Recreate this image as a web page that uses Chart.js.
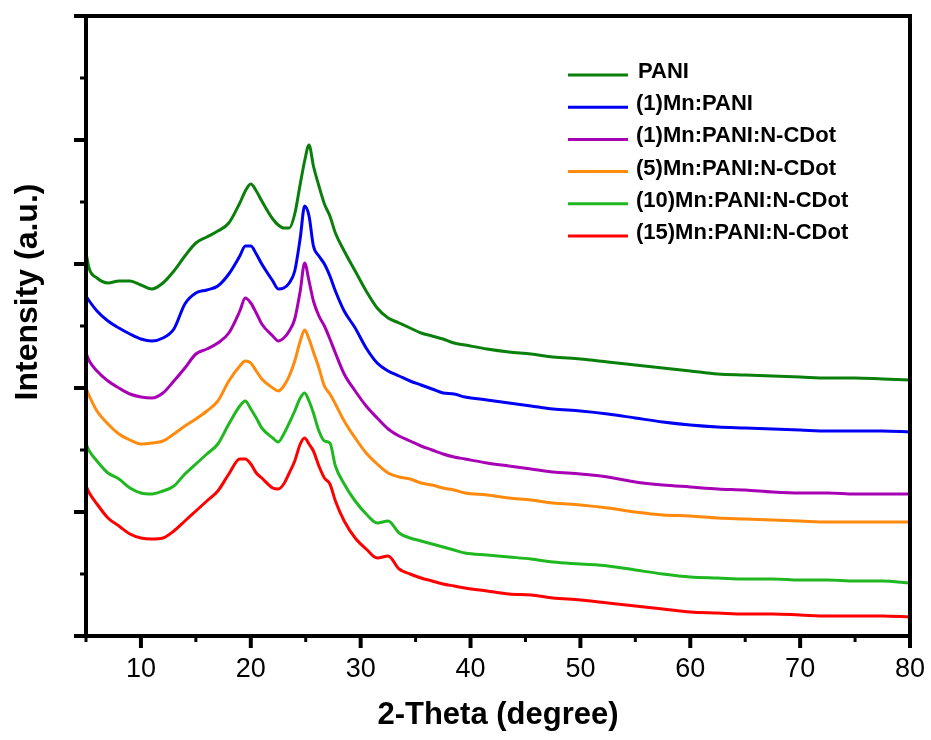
<!DOCTYPE html>
<html>
<head>
<meta charset="utf-8">
<script src="https://cdn.jsdelivr.net/npm/chart.js@4.4.1/dist/chart.umd.min.js"></script>
<style>
  html, body { margin: 0; padding: 0; background: #fff; }
</style>
</head>
<body>
<canvas id="xrd" width="931" height="740"></canvas>
<script>
// 2-theta positions (degree)
const theta = [5, 5.3, 6, 7, 8, 9, 10, 11, 12, 13, 14, 15, 16, 17, 18, 19, 19.5, 20, 20.5, 21,
  22, 22.5, 23, 23.5, 24, 24.5, 24.9, 25.3, 25.7, 26.2, 26.7, 27.2, 27.7, 28.5, 29.5, 30.5, 31.5, 32.5, 33.5, 34.5,
  35.5, 36.5, 37.5, 38.5, 39.5, 41.5, 43.5, 45.5, 47.5, 50, 52.5, 55, 57.5, 60, 62.5, 65, 67.5, 70, 72.5, 75,
  77.5, 80];

// stacked intensities (a.u.)
const pani = [383, 367, 358, 353, 355, 355, 351, 347, 353, 365, 380, 393, 399, 405, 413, 433, 445, 452, 445, 435,
  417, 411, 408, 408, 422, 452, 475, 491, 470, 450, 432, 420, 403, 385, 365, 345, 328, 318, 313, 308,
  303, 300, 297, 293, 291, 287, 284, 282, 279, 277, 274, 271, 268, 265, 262, 261, 260, 259, 258, 258, 257, 256];
const mn1Pani = [340, 335, 325, 315, 308, 302, 297, 295, 298, 307, 332, 343, 346, 350, 362, 380, 390, 390, 382, 372,
  355, 347, 348, 353, 365, 398, 430, 420, 390, 380, 372, 360, 345, 325, 308, 288, 273, 265, 260, 255,
  251, 247, 243, 242, 239, 236, 233, 230, 227, 225, 222, 218, 214, 211, 209, 208, 207, 206, 205, 205, 205, 204];
const mn1Cdot = [283, 275, 265, 255, 248, 242, 239, 238, 243, 255, 268, 282, 287, 293, 303, 325, 338, 333, 323, 312,
  300, 295, 298, 305, 317, 345, 373, 355, 335, 320, 310, 297, 283, 262, 245, 230, 218, 207, 200, 195,
  190, 186, 182, 179, 177, 173, 170, 167, 164, 162, 159, 154, 151, 149, 147, 146, 144, 143, 143, 142, 142, 142];
const mn5Cdot = [248, 240, 225, 212, 202, 196, 192, 193, 195, 202, 210, 217, 225, 235, 255, 270, 275, 273, 265, 257,
  248, 245, 250, 260, 275, 295, 306, 297, 284, 268, 250, 242, 232, 215, 198, 183, 172, 163, 159, 157,
  153, 151, 148, 146, 143, 141, 138, 136, 133, 131, 128, 124, 121, 120, 118, 117, 116, 115, 114, 114, 114, 114];
const mn10Cdot = [192, 185, 175, 163, 157, 148, 143, 142, 145, 150, 162, 172, 182, 192, 212, 230, 235, 227, 218, 208,
  198, 194, 202, 213, 225, 238, 243, 235, 223, 205, 195, 193, 170, 152, 135, 122, 113, 115, 103, 98,
  95, 92, 89, 86, 83, 81, 79, 77, 74, 72, 70, 66, 62, 59, 58, 57, 57, 56, 56, 55, 55, 53];
const mn15Cdot = [150, 143, 132, 118, 110, 102, 98, 97, 98, 105, 115, 125, 135, 145, 162, 177, 177, 172, 163, 158,
  148, 147, 152, 163, 175, 192, 198, 192, 185, 170, 158, 152, 135, 115, 98, 87, 78, 80, 67, 62,
  58, 55, 52, 50, 48, 45, 42, 41, 38, 36, 33, 30, 27, 24, 23, 22, 22, 21, 20, 20, 20, 19];

const seriesNames = ['PANI', '(1)Mn:PANI', '(1)Mn:PANI:N-CDot', '(5)Mn:PANI:N-CDot', '(10)Mn:PANI:N-CDot', '(15)Mn:PANI:N-CDot'];
const seriesColors = ['#0b7f0b', '#0000f5', '#a800b5', '#ff8a0d', '#20b820', '#ff0000'];
const seriesValues = [pani, mn1Pani, mn1Cdot, mn5Cdot, mn10Cdot, mn15Cdot];

const xMajor = [10, 20, 30, 40, 50, 60, 70, 80];
const xMinor = [5, 15, 25, 35, 45, 55, 65, 75];
const yMajor = [0, 124, 248, 372, 496, 620];
const yMinor = [62, 186, 310, 434, 558];

const FONT = '"Liberation Sans", Arial, sans-serif';

const frame = {
  id: 'frame',
  afterDraw(chart) {
    const { ctx, chartArea: a, scales: { x, y } } = chart;
    ctx.save();
    ctx.strokeStyle = '#000';
    ctx.lineWidth = 4;
    ctx.strokeRect(a.left, a.top, a.right - a.left, a.bottom - a.top);
    const tick = (x1, y1, x2, y2, w) => {
      ctx.lineWidth = w;
      ctx.beginPath(); ctx.moveTo(x1, y1); ctx.lineTo(x2, y2); ctx.stroke();
    };
    xMajor.forEach(v => { const p = x.getPixelForValue(v); tick(p, a.bottom, p, a.bottom + 12, 4); });
    xMinor.forEach(v => { const p = x.getPixelForValue(v); tick(p, a.bottom, p, a.bottom + 6, 3); });
    yMajor.forEach(v => { const p = y.getPixelForValue(v); tick(a.left, p, a.left - 12, p, 4); });
    yMinor.forEach(v => { const p = y.getPixelForValue(v); tick(a.left, p, a.left - 6, p, 3); });

    // y title
    ctx.fillStyle = '#000';
    ctx.font = 'bold 32px ' + FONT;
    ctx.textAlign = 'center';
    ctx.textBaseline = 'middle';
    ctx.translate(28, 292);
    ctx.rotate(-Math.PI / 2);
    ctx.fillText('Intensity (a.u.)', 0, 0);
    ctx.restore();

    // legend
    ctx.save();
    ctx.font = 'bold 22px ' + FONT;
    ctx.textAlign = 'left';
    ctx.textBaseline = 'middle';
    seriesNames.forEach((n, i) => {
      const ly = 75 + i * 32.2;
      ctx.strokeStyle = seriesColors[i];
      ctx.lineWidth = 3;
      ctx.beginPath(); ctx.moveTo(568, ly); ctx.lineTo(628, ly); ctx.stroke();
      ctx.fillStyle = '#000';
      ctx.fillText(n, i === 0 ? 638 : 636, ly - 3);
    });
    ctx.restore();
  }
};

new Chart(document.getElementById('xrd'), {
  type: 'line',
  data: {
    datasets: seriesValues.map((vals, i) => ({
      label: seriesNames[i],
      data: theta.map((t, j) => ({ x: t, y: vals[j] })),
      borderColor: seriesColors[i],
      borderWidth: 3,
      pointRadius: 0,
      cubicInterpolationMode: 'monotone',
      fill: false
    }))
  },
  options: {
    responsive: false,
    animation: false,
    layout: { padding: { top: 16, right: 21, left: 0, bottom: 0 } },
    plugins: { legend: { display: false }, tooltip: { enabled: false } },
    scales: {
      x: {
        type: 'linear', min: 5, max: 80,
        grid: { display: false, drawTicks: false },
        border: { display: false },
        afterBuildTicks: s => { s.ticks = xMajor.map(v => ({ value: v })); },
        afterFit: s => { s.height = 104; s.paddingLeft = 0; s.paddingRight = 0; },
        ticks: { padding: 17, color: '#000', maxRotation: 0, autoSkip: false, font: { family: FONT, size: 27 } },
        title: { display: true, text: '2-Theta (degree)', color: '#000', padding: { top: 0, bottom: 6 },
                 font: { family: FONT, size: 31, weight: 'bold' } }
      },
      y: {
        min: 0, max: 620,
        ticks: { display: false },
        grid: { display: false, drawTicks: false },
        border: { display: false },
        afterFit: s => { s.width = 86; s.paddingTop = 0; s.paddingBottom = 0; }
      }
    }
  },
  plugins: [frame]
});
</script>
</body>
</html>
